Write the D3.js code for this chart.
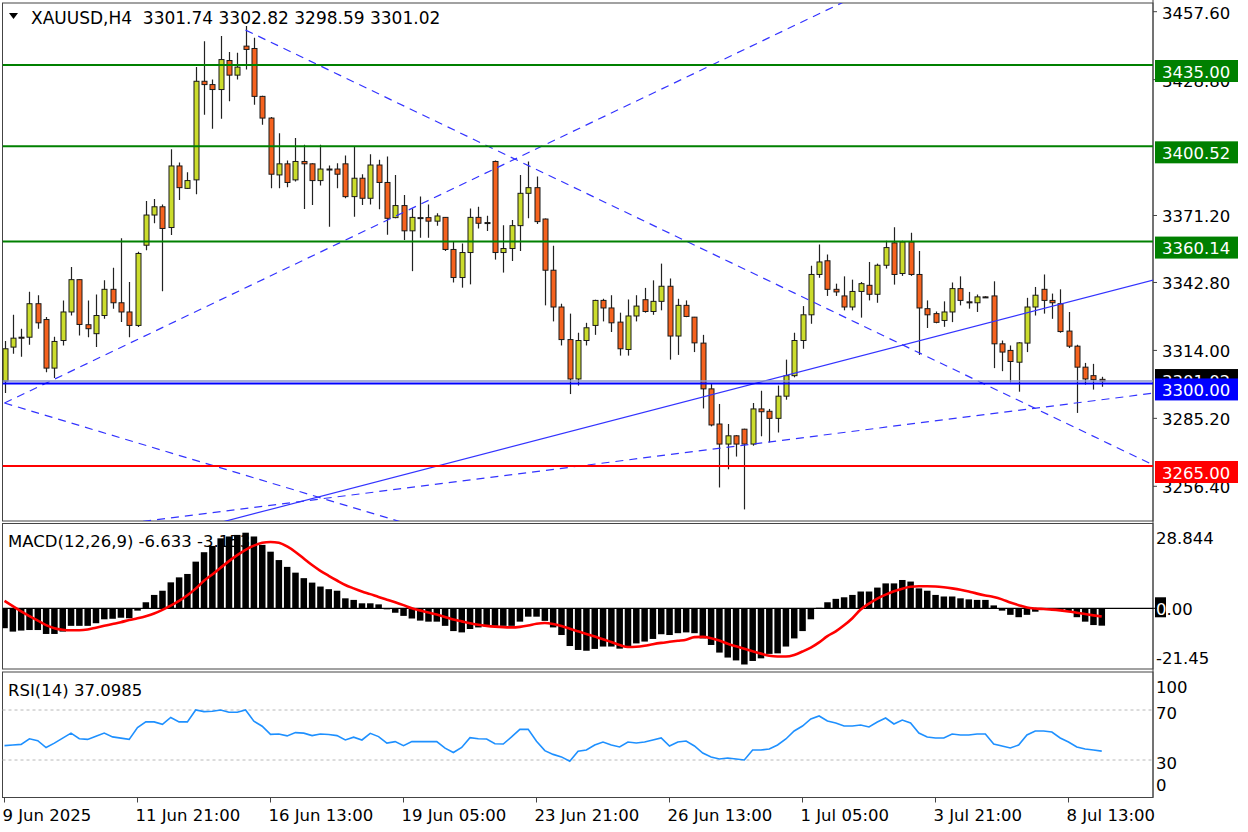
<!DOCTYPE html>
<html><head><meta charset="utf-8">
<script src="https://cdn.jsdelivr.net/npm/d3@7"></script>
<style>html,body{margin:0;padding:0;background:#fff;}svg{display:block;font-family:"DejaVu Sans",sans-serif;}</style>
</head><body><svg id="c" width="1248" height="832"></svg>
<script>
// ---------------- DATA ----------------
const chartTitle = "XAUUSD,H4  3301.74 3302.82 3298.59 3301.02";
const macdTitle = "MACD(12,26,9) -6.633 -3.153";
const rsiTitle = "RSI(14) 37.0985";

const opens = [3301.0,3315.4,3319.6,3319.6,3333.8,3327.1,3306.5,3318.2,3330.3,3344.0,3324.9,3321.1,3328.8,3339.9,3334.2,3330.3,3324.6,3358.6,3371.4,3374.9,
3366.1,3392.2,3382.7,3386.3,3428.1,3426.7,3424.6,3436.9,3430.7,3443.0,3442.0,3421.7,3412.5,3388.4,3393.1,3386.3,3394.1,3393.1,3386.0,3390.9,
3390.9,3393.1,3379.2,3387.0,3378.5,3392.6,3385.2,3370.3,3375.4,3364.7,3370.3,3370.3,3368.8,3370.4,3356.8,3344.9,3355.5,3370.4,3368.2,3394.1,
3355.5,3357.2,3366.9,3380.6,3383.0,3369.7,3348.0,3332.4,3318.6,3301.9,3318.2,3324.6,3335.2,3332.0,3326.0,3314.4,3328.6,3335.5,3330.5,3334.8,
3341.2,3320.1,3333.1,3328.1,3317.1,3297.7,3282.8,3274.3,3277.8,3280.6,3274.3,3289.2,3288.2,3285.2,3294.6,3303.3,3318.2,3329.1,3346.2,3352.0,
3339.9,3337.1,3332.4,3339.0,3341.6,3337.8,3350.1,3359.6,3346.6,3360.0,3346.2,3331.7,3329.6,3326.7,3330.3,3340.2,3334.6,3334.2,3336.7,3337.1,
3316.8,3314.0,3309.0,3317.1,3332.4,3339.9,3335.2,3333.8,3322.2,3315.8,3306.9,3303.3,3301.74];
const highs = [3318.0,3329.1,3323.2,3338.9,3337.4,3328.2,3319.8,3335.2,3349.4,3344.2,3335.2,3337.7,3343.7,3349.0,3361.5,3343.0,3355.8,3377.3,3378.2,3375.9,
3399.3,3393.7,3389.5,3434.1,3445.1,3428.8,3447.3,3440.5,3440.2,3451.5,3446.5,3422.0,3413.0,3406.1,3394.5,3404.0,3401.2,3393.3,3401.2,3392.4,
3393.4,3396.6,3400.2,3388.7,3397.2,3394.8,3396.2,3388.4,3379.9,3374.2,3379.2,3375.9,3372.1,3370.6,3360.1,3359.3,3374.2,3374.9,3371.1,3394.5,
3367.1,3369.3,3388.4,3394.1,3387.7,3369.9,3358.4,3333.8,3329.6,3321.5,3325.7,3335.5,3335.9,3337.4,3330.0,3335.6,3337.4,3340.5,3343.7,3350.8,
3344.5,3335.9,3335.2,3328.2,3320.6,3299.8,3291.3,3282.8,3278.1,3280.8,3291.7,3296.9,3289.2,3299.1,3310.1,3321.5,3332.8,3349.9,3358.9,3354.7,
3342.3,3345.4,3344.0,3343.0,3351.5,3350.8,3360.5,3366.2,3360.5,3363.9,3356.1,3335.2,3330.5,3334.8,3342.8,3345.4,3338.8,3337.7,3337.0,3343.3,
3318.2,3316.1,3317.5,3336.3,3340.9,3346.2,3338.1,3339.9,3330.3,3316.4,3308.7,3308.3,3302.82];
const lows = [3296.0,3312.6,3311.3,3316.4,3323.2,3304.7,3302.3,3316.1,3328.8,3320.3,3319.6,3315.4,3327.4,3331.7,3326.0,3319.6,3323.9,3356.5,3367.9,3339.1,
3362.9,3377.8,3382.4,3380.2,3413.9,3408.0,3412.2,3419.6,3428.8,3433.1,3418.2,3409.7,3382.7,3382.7,3383.2,3385.6,3373.9,3375.6,3383.9,3366.4,
3382.7,3378.5,3370.7,3375.6,3375.9,3373.8,3363.0,3370.0,3360.8,3347.6,3361.8,3361.8,3366.9,3356.1,3342.8,3340.6,3342.0,3365.7,3364.6,3352.5,
3347.0,3351.9,3356.2,3370.0,3367.6,3333.1,3326.3,3316.1,3295.5,3299.1,3316.1,3320.6,3326.3,3321.8,3311.8,3311.8,3326.3,3330.0,3329.1,3331.0,
3310.1,3312.1,3328.1,3313.3,3289.4,3281.8,3255.9,3263.6,3269.0,3246.6,3273.6,3277.6,3275.0,3279.2,3293.1,3302.6,3314.7,3325.3,3344.8,3337.1,
3337.1,3331.0,3331.0,3327.9,3335.2,3334.2,3348.7,3341.9,3345.6,3345.6,3312.1,3323.5,3325.5,3324.0,3326.0,3333.1,3331.7,3330.3,3336.4,3306.5,
3305.2,3300.5,3296.5,3313.3,3328.8,3329.6,3327.4,3321.5,3315.0,3287.5,3299.5,3297.4,3298.59];
const closes = [3314.7,3319.2,3319.2,3333.8,3325.7,3306.5,3317.8,3330.3,3344.0,3325.0,3323.2,3328.8,3339.9,3334.2,3330.3,3324.6,3355.1,3371.4,3374.9,3365.7,
3392.2,3383.0,3386.0,3428.1,3426.7,3424.6,3437.3,3430.7,3434.1,3441.6,3421.7,3412.5,3388.7,3393.1,3385.2,3394.1,3393.1,3386.0,3390.9,3390.8,
3388.7,3379.2,3387.0,3378.5,3392.6,3385.2,3370.0,3375.4,3364.7,3370.4,3370.2,3368.8,3371.0,3356.8,3344.9,3355.5,3370.4,3367.9,3368.0,3355.5,
3357.2,3366.9,3380.6,3383.0,3368.6,3348.0,3332.4,3318.6,3301.9,3318.2,3323.6,3335.2,3332.0,3325.7,3314.7,3328.6,3332.8,3330.5,3334.8,3341.2,
3320.1,3333.1,3328.4,3317.2,3297.7,3282.4,3274.3,3277.8,3274.3,3274.3,3289.2,3288.0,3285.2,3294.6,3303.3,3318.2,3329.1,3346.2,3351.5,3339.9,
3338.8,3332.4,3339.0,3342.3,3337.8,3350.1,3357.6,3346.2,3360.0,3346.2,3332.0,3329.1,3325.9,3330.3,3340.2,3335.2,3334.4,3336.7,3336.6,3316.8,
3313.3,3309.3,3317.2,3332.4,3337.4,3335.2,3334.2,3322.0,3315.8,3306.9,3301.9,3301.6,3301.02];

const macdHist = [-7.6,-8.9,-8.5,-8.3,-8.3,-9.8,-9.8,-8.9,-6.7,-6.7,-6.7,-5.7,-4.2,-4.0,-3.6,-3.8,-0.9,2.3,5.1,6.7,
9.9,11.8,13.1,17.8,21.4,23.8,26.7,27.4,28.0,28.844,27.4,24.2,21.6,18.4,15.8,13.6,11.5,9.8,8.3,7.3,
6.7,3.8,3.2,1.9,1.9,1.5,-0.4,-1.7,-2.9,-3.9,-4.7,-5.1,-5.1,-6.7,-8.7,-9.2,-7.9,-7.3,-7.0,-6.7,
-6.7,-6.7,-5.1,-3.2,-3.2,-4.8,-7.3,-10.2,-14.4,-15.9,-16.2,-15.5,-14.6,-14.6,-15.4,-14.4,-13.4,-12.7,-11.7,-9.9,
-10.2,-9.5,-9.2,-9.5,-11.5,-14.0,-16.9,-18.8,-19.9,-21.45,-20.1,-19.1,-17.4,-17.2,-14.6,-11.5,-8.7,-4.2,0.2,2.3,
3.6,4.2,5.1,6.4,6.4,7.9,9.5,9.5,10.8,10.2,7.6,6.7,5.1,4.5,4.5,3.8,3.4,3.2,3.2,1.1,
-0.9,-2.5,-3.4,-2.5,-1.3,-0.3,-0.2,-0.6,-1.3,-3.4,-5.1,-6.4,-6.633];
const macdSignal = [2.8,0.8,-1.2,-3.0,-4.7,-6.4,-7.6,-8.2,-8.4,-8.4,-8.1,-7.4,-6.7,-6.0,-5.3,-4.5,-3.8,-3.0,-2.0,-0.6,
1.0,2.8,5.0,7.5,10.5,12.9,15.5,18.0,20.3,22.3,23.9,25.0,25.3,25.0,23.6,21.5,19.0,16.5,14.3,12.4,
10.6,8.9,7.6,6.4,5.4,4.3,3.3,2.3,1.2,0.0,-0.8,-1.6,-2.4,-3.3,-4.3,-5.0,-5.7,-6.3,-6.7,-7.0,
-7.2,-7.3,-7.1,-6.6,-5.9,-5.6,-6.0,-6.8,-7.8,-8.8,-9.8,-10.8,-11.8,-12.9,-14.0,-14.8,-14.7,-14.3,-13.7,-13.2,
-12.8,-12.4,-12.0,-11.0,-10.9,-11.4,-12.3,-13.5,-14.5,-15.4,-16.4,-17.3,-18.1,-18.4,-18.4,-17.8,-16.5,-15.0,-13.0,-10.6,
-8.8,-6.5,-3.8,-0.5,1.8,3.7,5.2,6.5,7.5,8.2,8.4,8.4,8.3,8.0,7.6,7.1,6.4,5.6,4.9,4.3,
3.4,2.2,1.2,0.3,-0.1,-0.3,-0.5,-0.8,-1.2,-1.7,-2.2,-2.7,-3.15];
const rsiValues = [41.5,42,42.5,47,45.5,40,43.5,47.5,51.5,47,46.5,49,51.5,48.5,47.5,46.5,56,60.5,60.5,58.5,
64,60.5,60.5,70,68.7,69,70,68.2,68.2,70,61,57,50.5,50.8,49.3,51.9,51.5,49.5,50.8,50.4,
49.5,46,48.3,46,51.3,48.7,43.5,44.7,41.5,44.7,44.7,44.7,44.7,39.5,36,40,47.9,47,46.8,43,
42.8,48.5,54.5,54.5,45,37.5,34.5,32.5,29,37,38,42,44.4,42,40.4,44.4,43.6,44.4,46,47.6,
41.2,44.4,45.2,41.2,35.6,32.4,30.8,31.6,30.8,30,38,38,38.8,42,46.8,53.2,57.2,62.8,65.2,61.2,
59.6,57.2,57.2,58,56.4,60.4,63.6,58.8,62,59.6,51.6,48.4,47.6,47.6,50.8,50,50,50.8,50.8,42.8,
41.2,39.6,42,50,53.2,53.2,52.4,47.6,44.4,40.4,38.8,38,37.0985];

const priceTicks = [3457.60,3428.80,3371.20,3342.80,3314.00,3285.20,3256.40];
const priceTickLabels = ["3457.60","3428.80","3371.20","3342.80","3314.00","3285.20","3256.40"];
const levelPrices = [3435.00,3400.52,3360.14,3300.00,3265.00];
const levelLabels = ["3435.00","3400.52","3360.14","3300.00","3265.00"];
const bidPrice = 3301.02, bidLabel = "3301.02";
const timeTickBars = [0,16,32,48,64,80,96,112,128];
const timeTickLabels = ["9 Jun 2025","11 Jun 21:00","16 Jun 13:00","19 Jun 05:00","23 Jun 21:00","26 Jun 13:00","1 Jul 05:00","3 Jul 21:00","8 Jul 13:00"];
const macdAxisValues = [28.844,-21.45];
const macdAxisLabels = ["28.844","-21.45"];
const macdZeroLabel = ["0", ".00"];
const rsiAxisValues = [100,70,30,0];
const rsiLevels = [70,30];
// trend lines: two anchor points (bar index, price)
const trendA = [[29,3449.8],[0,3291.7],[0,3291.7],[20,3235.6],[10,3238.5]];
const trendB = [[132,3275.9],[100,3460.1],[50,3238.85],[132,3338.2],[132,3293.1]];

// ---------------- DRAW ----------------
const svg = d3.select("#c");
const FONT = 16.5;
const PL = 2.5, PR = 1153;
const main = {t:3, b:521}, mp = {t:523.5, b:669}, rp = {t:672, b:797.5};

const x = d3.scaleLinear().domain([0,128]).range([4.5, 4.5+128*8.3125]);
const y = d3.scaleLinear().domain([3265,3435]).range([466,65]);
const ym = d3.scaleLinear().domain([-21.45,28.844]).range([664.5,532.7]);
const yr = d3.scaleLinear().domain([30,70]).range([760,710]);
const N = closes.length;
const idx = d3.range(N);

const defs = svg.append("defs");
defs.append("clipPath").attr("id","cm").append("rect").attr("x",PL).attr("y",main.t).attr("width",PR-PL).attr("height",main.b-main.t);
defs.append("clipPath").attr("id","cmacd").append("rect").attr("x",PL).attr("y",mp.t).attr("width",PR-PL).attr("height",mp.b-mp.t);

// frames
const frame = svg.append("g").attr("fill","none").attr("stroke","#444").attr("stroke-width",1);
[[main.t,main.b],[mp.t,mp.b],[rp.t,rp.b]].forEach(([t,b])=>{
  frame.append("rect").attr("x",PL).attr("y",t).attr("width",PR-PL).attr("height",b-t);
});
frame.append("line").attr("x1",PR).attr("x2",PR).attr("y1",0).attr("y2",rp.b);

// ----- main pane -----
const gm = svg.append("g").attr("clip-path","url(#cm)");
const cg = gm.append("g");
cg.selectAll("line.w").data(idx).join("line")
  .attr("x1",i=>Math.round(x(i))+0.5).attr("x2",i=>Math.round(x(i))+0.5)
  .attr("y1",i=>y(highs[i])).attr("y2",i=>y(lows[i]))
  .attr("stroke","#222").attr("stroke-width",1.2);
cg.selectAll("rect.b").data(idx).join("rect")
  .attr("x",i=>Math.round(x(i))-2).attr("width",5)
  .attr("y",i=>y(Math.max(opens[i],closes[i])))
  .attr("height",i=>Math.max(1,Math.abs(y(opens[i])-y(closes[i]))))
  .attr("fill",i=>closes[i]>=opens[i]?"#cbdc2c":"#f5621e")
  .attr("stroke","#1a1a1a").attr("stroke-width",1);

const tStyles = ["8,6","8,6","8,6",null,"8,6"];
trendA.forEach((a,k)=>{
  const b = trendB[k];
  const slope = (b[1]-a[1])/(b[0]-a[0]);
  const iEnd = 150;
  gm.append("line")
    .attr("x1",x(a[0])).attr("y1",y(a[1]))
    .attr("x2",x(iEnd)).attr("y2",y(a[1]+slope*(iEnd-a[0])))
    .attr("stroke","#3333ff").attr("stroke-width",1.2)
    .attr("stroke-dasharray",tStyles[k]);
});

gm.append("line").attr("x1",PL).attr("x2",PR).attr("y1",y(bidPrice)).attr("y2",y(bidPrice))
  .attr("stroke","#8a93c9").attr("stroke-width",1.5);
const levelColors = ["#008000","#008000","#008000","#0000ff","#ff0000"];
levelPrices.forEach((p,k)=>{
  gm.append("line").attr("x1",PL).attr("x2",PR).attr("y1",y(p)).attr("y2",y(p))
    .attr("stroke",levelColors[k]).attr("stroke-width",2);
});

// header
svg.append("path").attr("d","M9,13 L18,13 L13.5,19 Z").attr("fill","#000");
svg.append("text").attr("x",31).attr("y",24).attr("font-size",17).attr("fill","#000")
  .attr("xml:space","preserve").style("white-space","pre").text(chartTitle);

// price axis
const ax = svg.append("g").attr("font-size",FONT).attr("fill","#000");
priceTicks.forEach((p,k)=>{
  ax.append("line").attr("x1",PR).attr("x2",PR+4).attr("y1",y(p)).attr("y2",y(p)).attr("stroke","#444");
  ax.append("text").attr("x",1162).attr("y",y(p)+7).text(priceTickLabels[k]);
});
ax.append("rect").attr("x",1155).attr("y",y(bidPrice)-12).attr("width",83).attr("height",22).attr("fill","#000");
ax.append("text").attr("x",1162).attr("y",y(bidPrice)+6).attr("fill","#fff").text(bidLabel);
levelPrices.forEach((p,k)=>{
  ax.append("rect").attr("x",1155).attr("y",y(p)-5).attr("width",83).attr("height",22).attr("fill",levelColors[k]);
  ax.append("text").attr("x",1162).attr("y",y(p)+12.5).attr("fill","#fff").text(levelLabels[k]);
});

// ----- MACD pane -----
svg.append("text").attr("x",8).attr("y",547).attr("font-size",FONT).attr("fill","#000").text(macdTitle);
const gmacd = svg.append("g").attr("clip-path","url(#cmacd)");
gmacd.selectAll("rect").data(idx).join("rect")
  .attr("x",i=>x(i)-3.2).attr("width",6.5)
  .attr("y",i=>Math.min(ym(0),ym(macdHist[i])))
  .attr("height",i=>Math.max(0.5,Math.abs(ym(macdHist[i])-ym(0))))
  .attr("fill","#000");
gmacd.append("line").attr("x1",PL).attr("x2",PR).attr("y1",ym(0)).attr("y2",ym(0)).attr("stroke","#000").attr("stroke-width",1.2);
gmacd.append("path").datum(idx)
  .attr("d",d3.line().x(i=>x(i)).y(i=>ym(macdSignal[i])).curve(d3.curveMonotoneX))
  .attr("fill","none").attr("stroke","#ff0000").attr("stroke-width",2.6);
svg.append("line").attr("x1",PR).attr("x2",PR+4).attr("y1",ym(0)).attr("y2",ym(0)).attr("stroke","#000");
const macdOff = [11.5,-0.5];
macdAxisValues.forEach((v,k)=>{
  ax.append("text").attr("x",1156).attr("y",ym(v)+macdOff[k]).text(macdAxisLabels[k]);
});
ax.append("rect").attr("x",1155).attr("y",ym(0)-11).attr("width",11).attr("height",20).attr("fill","#000");
const zt = ax.append("text").attr("x",1156).attr("y",ym(0)+6.5);
zt.append("tspan").attr("fill","#fff").text(macdZeroLabel[0]);
zt.append("tspan").attr("fill","#000").text(macdZeroLabel[1]);

// ----- RSI pane -----
svg.append("text").attr("x",8).attr("y",696).attr("font-size",FONT).attr("fill","#000").text(rsiTitle);
rsiLevels.forEach(v=>{
  svg.append("line").attr("x1",PL).attr("x2",PR).attr("y1",yr(v)).attr("y2",yr(v))
    .attr("stroke","#b8b8b8").attr("stroke-dasharray","3,3");
});
svg.append("path").datum(idx)
  .attr("d",d3.line().x(i=>x(i)).y(i=>yr(rsiValues[i])))
  .attr("fill","none").attr("stroke","#1e90ff").attr("stroke-width",1.6);
const rsiOff = [20.5,9,8.5,-6.5];
rsiAxisValues.forEach((v,k)=>{
  ax.append("text").attr("x",1156).attr("y",yr(v)+rsiOff[k]).text(String(v));
});

// ----- time axis -----
timeTickBars.forEach((b,k)=>{
  svg.append("line").attr("x1",x(b)).attr("x2",x(b)).attr("y1",rp.b).attr("y2",rp.b+5).attr("stroke","#444");
  svg.append("text").attr("x",x(b)-2).attr("y",821).attr("font-size",FONT).attr("fill","#000").text(timeTickLabels[k]);
});
</script></body></html>
